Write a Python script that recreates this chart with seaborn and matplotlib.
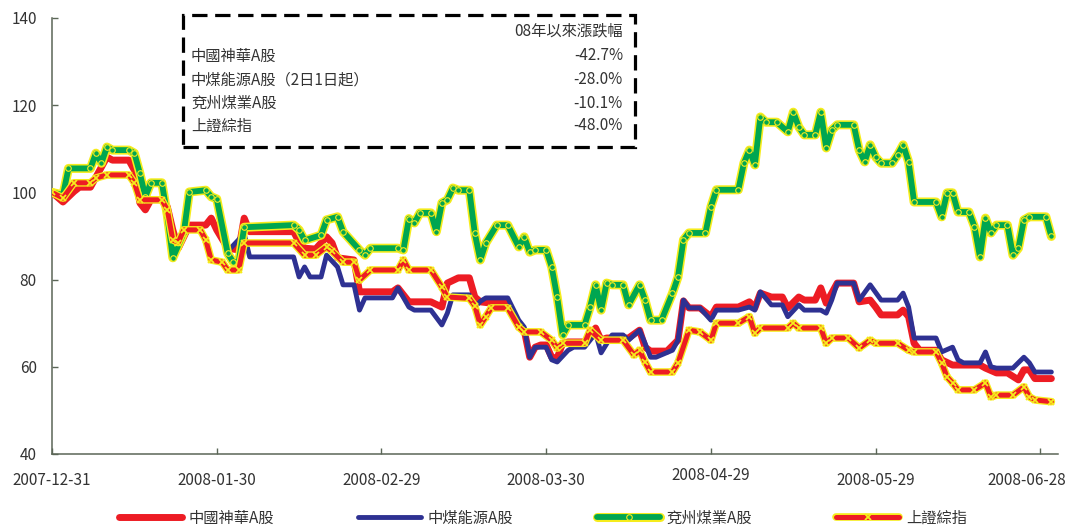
import matplotlib
matplotlib.use("Agg")
import matplotlib.pyplot as plt
from matplotlib.patches import Rectangle
from matplotlib.legend_handler import HandlerTuple
from matplotlib.transforms import ScaledTranslation
import seaborn as sns
import pandas as pd

series_names = ["中國神華A股", "中煤能源A股", "兗州煤業A股", "上證綜指"]

shenhua_dates = ["2007-12-31", "2008-01-02", "2008-01-04", "2008-01-05", "2008-01-07", "2008-01-08", "2008-01-09",
                 "2008-01-10", "2008-01-11", "2008-01-14", "2008-01-15", "2008-01-16", "2008-01-17", "2008-01-18",
                 "2008-01-20", "2008-01-21", "2008-01-22", "2008-01-23", "2008-01-24", "2008-01-25", "2008-01-28",
                 "2008-01-29", "2008-01-30", "2008-02-01", "2008-02-03", "2008-02-04", "2008-02-05", "2008-02-13",
                 "2008-02-14", "2008-02-15", "2008-02-17", "2008-02-19", "2008-02-20", "2008-02-21", "2008-02-24",
                 "2008-02-25", "2008-03-02", "2008-03-03", "2008-03-05", "2008-03-09", "2008-03-11", "2008-03-12",
                 "2008-03-14", "2008-03-16", "2008-03-17", "2008-03-18", "2008-03-20", "2008-03-23", "2008-03-25",
                 "2008-03-26", "2008-03-27", "2008-03-28", "2008-03-29", "2008-03-30", "2008-03-31", "2008-04-01",
                 "2008-04-02", "2008-04-03", "2008-04-06", "2008-04-08", "2008-04-09", "2008-04-10", "2008-04-14",
                 "2008-04-16", "2008-04-17", "2008-04-18", "2008-04-21", "2008-04-23", "2008-04-24", "2008-04-25",
                 "2008-04-27", "2008-04-29", "2008-04-30", "2008-05-04", "2008-05-06", "2008-05-07", "2008-05-08",
                 "2008-05-10", "2008-05-12", "2008-05-13", "2008-05-15", "2008-05-16", "2008-05-18", "2008-05-19",
                 "2008-05-20", "2008-05-22", "2008-05-25", "2008-05-26", "2008-05-28", "2008-05-29", "2008-05-30",
                 "2008-06-02", "2008-06-03", "2008-06-04", "2008-06-05", "2008-06-06", "2008-06-09", "2008-06-10",
                 "2008-06-12", "2008-06-17", "2008-06-18", "2008-06-20", "2008-06-22", "2008-06-24", "2008-06-25",
                 "2008-06-26", "2008-06-27", "2008-06-30"]
shenhua_values = [100, 97.8, 100.2, 101.2, 101.2, 103.5, 105.8,
                  108.1, 107.4, 107.4, 105.1, 97.6, 96.0, 98.3,
                  98.3, 96.7, 91.4, 87.2, 89.8, 92.5, 92.5,
                  94.1, 91.4, 87.2, 86.8, 94.1, 91.0, 91.0,
                  88.6, 87.2, 87.0, 89.8, 88.4, 85.0, 84.5,
                  77.2, 77.2, 78.1, 74.9, 74.9, 73.7, 79.2,
                  80.4, 80.4, 76.0, 74.9, 74.6, 74.6, 69.1,
                  68.4, 62.2, 64.5, 65.0, 65.0, 62.2, 62.0,
                  65.4, 65.7, 65.7, 68.9, 66.1, 66.6, 66.6,
                  68.4, 64.5, 63.6, 63.6, 66.1, 75.1, 73.5,
                  73.5, 71.5, 73.7, 73.7, 74.9, 73.5, 76.9,
                  76.0, 76.0, 73.5, 76.0, 75.3, 75.3, 78.1,
                  74.6, 79.2, 79.2, 74.9, 75.3, 73.7, 71.9,
                  71.9, 73.0, 71.5, 65.4, 63.8, 63.8, 61.6,
                  60.4, 60.4, 59.7, 58.6, 58.6, 57.0, 59.3,
                  59.3, 57.3, 57.3]

chinacoal_dates = ["2008-02-01", "2008-02-04", "2008-02-05", "2008-02-13", "2008-02-14", "2008-02-15", "2008-02-16",
                   "2008-02-18", "2008-02-19", "2008-02-21", "2008-02-22", "2008-02-24", "2008-02-25", "2008-02-26",
                   "2008-03-02", "2008-03-03", "2008-03-05", "2008-03-06", "2008-03-09", "2008-03-11", "2008-03-12",
                   "2008-03-13", "2008-03-16", "2008-03-17", "2008-03-18", "2008-03-19", "2008-03-23", "2008-03-25",
                   "2008-03-26", "2008-03-27", "2008-03-28", "2008-03-30", "2008-03-31", "2008-04-01", "2008-04-03",
                   "2008-04-04", "2008-04-06", "2008-04-08", "2008-04-09", "2008-04-11", "2008-04-13", "2008-04-14",
                   "2008-04-16", "2008-04-17", "2008-04-18", "2008-04-19", "2008-04-22", "2008-04-23", "2008-04-24",
                   "2008-04-25", "2008-04-27", "2008-04-29", "2008-04-30", "2008-05-04", "2008-05-06", "2008-05-07",
                   "2008-05-08", "2008-05-10", "2008-05-12", "2008-05-13", "2008-05-15", "2008-05-16", "2008-05-19",
                   "2008-05-20", "2008-05-21", "2008-05-22", "2008-05-25", "2008-05-26", "2008-05-28", "2008-05-30",
                   "2008-06-02", "2008-06-03", "2008-06-04", "2008-06-05", "2008-06-09", "2008-06-10", "2008-06-12",
                   "2008-06-13", "2008-06-14", "2008-06-17", "2008-06-18", "2008-06-19", "2008-06-20", "2008-06-23",
                   "2008-06-25", "2008-06-26", "2008-06-27", "2008-06-30"]
chinacoal_values = [86.5, 90.5, 85.2, 85.2, 80.6, 82.9, 80.6,
                    80.6, 85.6, 82.9, 78.8, 78.8, 73.0, 75.8,
                    75.8, 78.1, 73.7, 73.0, 73.0, 69.6, 72.3,
                    76.5, 76.5, 73.7, 75.0, 75.8, 75.8, 70.7,
                    69.1, 62.2, 64.5, 64.5, 61.6, 61.1, 63.8,
                    64.5, 64.5, 67.7, 63.2, 67.3, 67.3, 66.1,
                    68.4, 65.4, 62.2, 62.2, 63.8, 66.1, 75.3,
                    73.5, 73.5, 70.7, 73.0, 73.0, 73.7, 73.0,
                    77.2, 74.2, 74.2, 71.5, 74.2, 73.0, 73.0,
                    72.3, 75.3, 79.2, 79.2, 75.3, 78.8, 75.3,
                    75.3, 76.9, 73.7, 66.6, 66.6, 63.4, 64.5,
                    61.6, 60.9, 60.9, 63.4, 60.0, 59.7, 59.7,
                    62.2, 60.9, 58.8, 58.8]

yanzhou_dates = ["2007-12-31", "2008-01-02", "2008-01-03", "2008-01-07", "2008-01-08", "2008-01-09", "2008-01-10",
                 "2008-01-11", "2008-01-14", "2008-01-15", "2008-01-16", "2008-01-17", "2008-01-18", "2008-01-20",
                 "2008-01-21", "2008-01-22", "2008-01-24", "2008-01-25", "2008-01-28", "2008-01-29", "2008-01-30",
                 "2008-02-01", "2008-02-02", "2008-02-03", "2008-02-04", "2008-02-13", "2008-02-14", "2008-02-15",
                 "2008-02-18", "2008-02-19", "2008-02-21", "2008-02-22", "2008-02-25", "2008-02-26", "2008-02-27",
                 "2008-03-03", "2008-03-04", "2008-03-05", "2008-03-06", "2008-03-07", "2008-03-09", "2008-03-10",
                 "2008-03-11", "2008-03-12", "2008-03-13", "2008-03-14", "2008-03-16", "2008-03-17", "2008-03-18",
                 "2008-03-19", "2008-03-21", "2008-03-23", "2008-03-25", "2008-03-26", "2008-03-27", "2008-03-28",
                 "2008-03-30", "2008-03-31", "2008-04-01", "2008-04-02", "2008-04-03", "2008-04-06", "2008-04-07",
                 "2008-04-08", "2008-04-09", "2008-04-10", "2008-04-11", "2008-04-13", "2008-04-14", "2008-04-16",
                 "2008-04-17", "2008-04-18", "2008-04-20", "2008-04-22", "2008-04-23", "2008-04-24", "2008-04-25",
                 "2008-04-28", "2008-04-29", "2008-04-30", "2008-05-04", "2008-05-05", "2008-05-06", "2008-05-07",
                 "2008-05-08", "2008-05-09", "2008-05-11", "2008-05-13", "2008-05-14", "2008-05-15", "2008-05-16",
                 "2008-05-18", "2008-05-19", "2008-05-20", "2008-05-21", "2008-05-22", "2008-05-25", "2008-05-26",
                 "2008-05-27", "2008-05-28", "2008-05-29", "2008-05-30", "2008-06-01", "2008-06-02", "2008-06-03",
                 "2008-06-04", "2008-06-05", "2008-06-09", "2008-06-10", "2008-06-11", "2008-06-12", "2008-06-13",
                 "2008-06-15", "2008-06-16", "2008-06-17", "2008-06-18", "2008-06-19", "2008-06-20", "2008-06-22",
                 "2008-06-23", "2008-06-24", "2008-06-25", "2008-06-26", "2008-06-29", "2008-06-30"]
yanzhou_values = [100, 99.4, 105.5, 105.5, 109.0, 106.7, 110.4,
                  109.7, 109.7, 109.0, 104.4, 99.0, 102.2, 102.2,
                  94.8, 85.0, 90.7, 100.1, 100.5, 99.0, 98.5,
                  86.0, 84.0, 84.0, 92.0, 92.5, 91.4, 89.0,
                  90.2, 93.7, 94.4, 91.0, 86.8, 85.6, 87.2,
                  87.2, 86.8, 94.0, 93.0, 95.3, 95.3, 91.0,
                  97.6, 98.3, 101.0, 100.5, 100.5, 90.6, 84.5,
                  88.4, 92.5, 92.5, 87.5, 89.8, 86.3, 86.8,
                  86.8, 82.9, 76.0, 67.3, 69.6, 69.6, 73.7,
                  78.8, 73.0, 79.2, 78.8, 78.8, 74.2, 78.8,
                  75.3, 70.7, 70.7, 76.9, 80.6, 89.1, 90.7,
                  90.7, 96.7, 100.6, 100.6, 106.7, 109.7, 106.3,
                  117.3, 116.1, 116.1, 113.9, 118.4, 115.0, 113.2,
                  113.2, 118.4, 110.2, 114.3, 115.5, 115.5, 109.7,
                  107.0, 110.9, 108.1, 106.7, 106.7, 108.6, 110.9,
                  107.0, 97.8, 97.8, 94.4, 99.9, 99.9, 95.5,
                  95.5, 92.1, 85.2, 94.1, 90.7, 92.5, 92.5,
                  85.6, 87.2, 93.7, 94.4, 94.4, 89.9]

shanghai_dates = ["2007-12-31", "2008-01-02", "2008-01-04", "2008-01-07", "2008-01-08", "2008-01-10", "2008-01-14",
                  "2008-01-15", "2008-01-16", "2008-01-20", "2008-01-21", "2008-01-22", "2008-01-23", "2008-01-24",
                  "2008-01-27", "2008-01-28", "2008-01-29", "2008-01-31", "2008-02-01", "2008-02-03", "2008-02-04",
                  "2008-02-13", "2008-02-15", "2008-02-17", "2008-02-19", "2008-02-20", "2008-02-22", "2008-02-24",
                  "2008-02-25", "2008-02-27", "2008-03-03", "2008-03-04", "2008-03-05", "2008-03-09", "2008-03-11",
                  "2008-03-12", "2008-03-16", "2008-03-17", "2008-03-18", "2008-03-19", "2008-03-20", "2008-03-23",
                  "2008-03-25", "2008-03-26", "2008-03-29", "2008-03-31", "2008-04-01", "2008-04-02", "2008-04-06",
                  "2008-04-07", "2008-04-09", "2008-04-13", "2008-04-15", "2008-04-16", "2008-04-17", "2008-04-18",
                  "2008-04-22", "2008-04-23", "2008-04-25", "2008-04-27", "2008-04-29", "2008-04-30", "2008-05-04",
                  "2008-05-06", "2008-05-07", "2008-05-08", "2008-05-13", "2008-05-14", "2008-05-15", "2008-05-19",
                  "2008-05-20", "2008-05-21", "2008-05-24", "2008-05-26", "2008-05-28", "2008-05-29", "2008-06-02",
                  "2008-06-04", "2008-06-05", "2008-06-09", "2008-06-10", "2008-06-11", "2008-06-12", "2008-06-13",
                  "2008-06-16", "2008-06-18", "2008-06-19", "2008-06-20", "2008-06-23", "2008-06-25", "2008-06-26",
                  "2008-06-27", "2008-06-30"]
shanghai_values = [100, 98.7, 102.2, 102.2, 103.3, 104.0, 104.0,
                   102.2, 98.3, 98.3, 96.0, 89.1, 88.5, 91.4,
                   91.4, 89.1, 84.5, 84.0, 82.2, 82.2, 88.4,
                   88.4, 85.6, 85.6, 87.5, 86.5, 84.0, 84.0,
                   79.9, 82.2, 82.2, 84.5, 82.2, 82.2, 78.3,
                   76.0, 75.7, 74.0, 69.6, 71.5, 73.5, 73.5,
                   69.1, 68.0, 68.0, 66.1, 64.3, 65.4, 65.4,
                   68.4, 66.1, 66.1, 62.7, 63.8, 61.1, 58.8,
                   58.8, 60.9, 68.4, 68.0, 66.1, 70.0, 70.0,
                   71.5, 67.7, 68.9, 68.9, 70.0, 68.9, 68.9,
                   65.4, 66.6, 66.6, 64.3, 66.1, 65.4, 65.4,
                   63.8, 63.4, 63.4, 60.9, 57.7, 56.3, 54.7,
                   54.7, 56.3, 53.1, 53.5, 53.5, 55.4, 53.1,
                   52.4, 52.0]

tick_dates = ["2007-12-31", "2008-01-30", "2008-02-29", "2008-03-30",
              "2008-04-29", "2008-05-29", "2008-06-28"]
y_ticks = [40, 60, 80, 100, 120, 140]
x_range = ["2007-12-31", "2008-07-01 05:00"]

table_header = "08年以來漲跌幅"
table_labels = ["中國神華A股", "中煤能源A股（2日1日起）", "兗州煤業A股", "上證綜指"]
table_values = ["-42.7%", "-28.0%", "-10.1%", "-48.0%"]

# ---------------------------------------------------------------------------
sns.set_theme(style="white")
plt.rcParams["font.family"] = ["Noto Sans CJK TC", "DejaVu Sans"]

W, H = 1073, 529
fig = plt.figure(figsize=(W / 100, H / 100), dpi=100)
ax = fig.add_axes([52 / W, 1 - 454 / H, 1006 / W, 436 / H])


def frame(dates, values):
    return pd.DataFrame({"date": pd.to_datetime(dates), "value": values})


RED = "#ed1c24"
NAVY = "#2e3192"
GREEN = "#00a651"
YELLOW = "#f6ec1c"

handles = []

df = frame(shenhua_dates, shenhua_values)
sns.lineplot(data=df, x="date", y="value", color=RED, linewidth=5, ax=ax,
             legend=False, zorder=3, errorbar=None)
handles.append(ax.lines[-1])

df = frame(chinacoal_dates, chinacoal_values)
sns.lineplot(data=df, x="date", y="value", color=NAVY, linewidth=3.5, ax=ax,
             legend=False, zorder=4, errorbar=None)
handles.append(ax.lines[-1])

df = frame(yanzhou_dates, yanzhou_values)
sns.lineplot(data=df, x="date", y="value", color=YELLOW, linewidth=6.5, ax=ax,
             legend=False, zorder=4.9, errorbar=None)
under = ax.lines[-1]
sns.lineplot(data=df, x="date", y="value", color=GREEN, linewidth=4.2, ax=ax,
             legend=False, zorder=5, errorbar=None, marker="o", markersize=4,
             markeredgecolor=YELLOW, markeredgewidth=0.8)
handles.append((under, ax.lines[-1]))

df = frame(shanghai_dates, shanghai_values)
sns.lineplot(data=df, x="date", y="value", color=YELLOW, linewidth=5.5, ax=ax,
             legend=False, zorder=5.9, errorbar=None)
under = ax.lines[-1]
sns.lineplot(data=df, x="date", y="value", color=RED, linewidth=3.6, ax=ax,
             legend=False, zorder=6, errorbar=None, marker="x", markersize=4.5,
             markeredgecolor=YELLOW, markeredgewidth=1.3)
handles.append((under, ax.lines[-1]))

# axes styling
ax.set_xlim(pd.to_datetime(x_range[0]), pd.to_datetime(x_range[1]))
ax.set_ylim(y_ticks[0], y_ticks[-1])
ax.set_yticks(y_ticks)
ax.set_yticklabels([str(v) for v in y_ticks])
ax.set_xticks(pd.to_datetime(tick_dates))
ax.set_xticklabels(tick_dates)
ax.set_xlabel("")
ax.set_ylabel("")
sns.despine(ax=ax)
SPINE = "#5b6657"
for s in ("left", "bottom"):
    ax.spines[s].set_color(SPINE)
    ax.spines[s].set_linewidth(1.1)
ax.tick_params(axis="both", which="both", direction="in", length=4, width=1,
               color=SPINE, labelsize=11, labelcolor="#333333",
               bottom=True, left=True)
ax.tick_params(axis="x", pad=13)
ax.tick_params(axis="y", pad=11)

# Excel-like label placement: last label pulled inside, one label slightly raised
xlabels = ax.get_xticklabels()
last = xlabels[-1]
last.set_horizontalalignment("right")
last.set_transform(last.get_transform() + ScaledTranslation(26 / 100, 0, fig.dpi_scale_trans))
raised = xlabels[4]
raised.set_transform(raised.get_transform() + ScaledTranslation(0, 5 / 100, fig.dpi_scale_trans))

# summary table with dashed frame
fig.patches.append(Rectangle((183 / W, 1 - 147 / H), (635 - 183) / W, (147 - 15) / H,
                             transform=fig.transFigure, fill=False, edgecolor="black",
                             linewidth=2.3, linestyle=(0, (4.8, 2.4)), zorder=10))
fig.text(623 / W, 1 - 31 / H, table_header, ha="right", va="center",
         fontsize=11, color="#333333")
row_y = [56, 80, 103, 126]
for lab, val, yy in zip(table_labels, table_values, row_y):
    fig.text(191 / W, 1 - yy / H, lab, ha="left", va="center", fontsize=11, color="#333333")
    fig.text(623 / W, 1 - yy / H, val, ha="right", va="center", fontsize=11, color="#333333")

fig.legend(handles=handles, labels=series_names, loc="center",
           bbox_to_anchor=(0.506, 1 - 518 / H), ncol=4, frameon=False,
           handlelength=4.1, handletextpad=0.45, columnspacing=5.5,
           fontsize=11, labelcolor="#333333",
           handler_map={tuple: HandlerTuple(ndivide=1)})

fig.savefig("out.png", dpi=100)
